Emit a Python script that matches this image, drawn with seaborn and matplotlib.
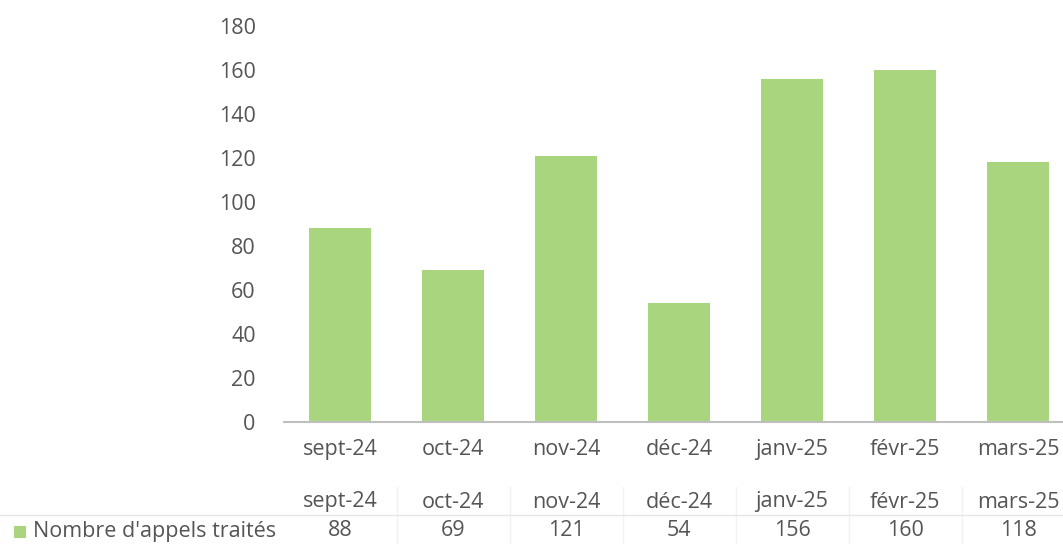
import matplotlib
matplotlib.use("Agg")
import matplotlib.pyplot as plt
import matplotlib.transforms as mtransforms
from matplotlib.patches import Rectangle
import seaborn as sns
import pandas as pd

months = ["sept-24", "oct-24", "nov-24", "déc-24", "janv-25", "févr-25", "mars-25"]
calls = [88, 69, 121, 54, 156, 160, 118]
series_name = "Nombre d'appels traités"
yticks = [0, 20, 40, 60, 80, 100, 120, 140, 160, 180]

bar_color = "#A9D57F"
text_color = "#555555"
font = ["Open Sans", "DejaVu Sans"]
fs = 15.5

sns.set_theme(style="white")
plt.rcParams["font.family"] = font

df = pd.DataFrame({"month": months, "calls": calls})

fig = plt.figure(figsize=(10.63, 5.44), dpi=100)
W, H = 1063, 544
left_px, right_px = 283.5, 1074.5
ax = fig.add_axes([left_px / W, (H - 422) / H, (right_px - left_px) / W, (422 - 26) / H])

sns.barplot(data=df, x="month", y="calls", color=bar_color, width=0.55,
            saturation=1, ax=ax, edgecolor="none")

ax.set_xlim(-0.5, len(months) - 0.5)
ax.set_ylim(0, 180)
ax.set_yticks(yticks)
ax.set_yticklabels([str(v) for v in yticks], fontsize=fs, color=text_color)
ax.set_xticks(range(len(months)))
ax.set_xticklabels(months, fontsize=fs, color=text_color)
ax.tick_params(axis="y", length=0, pad=20)
ax.tick_params(axis="x", length=0, pad=12)
ax.set_xlabel("")
ax.set_ylabel("")
for s in ["left", "right", "top"]:
    ax.spines[s].set_visible(False)
ax.spines["bottom"].set_color("#BFBFBF")
ax.spines["bottom"].set_linewidth(1.5)
ax.grid(False)

# data table below the chart
trans = mtransforms.blended_transform_factory(ax.transData, ax.transAxes)
y_head = (422 - 502) / 396
y_data = (422 - 531) / 396
y_top = (422 - 487) / 396
for i, (m, v) in enumerate(zip(months, calls)):
    ax.text(i, y_head, m, transform=trans, ha="center", va="center",
            fontsize=fs, color=text_color, clip_on=False)
    ax.text(i, y_data, str(v), transform=trans, ha="center", va="center",
            fontsize=fs, color=text_color, clip_on=False)
for b in range(1, len(months)):
    ax.plot([b - 0.5, b - 0.5], [y_top, -0.4], transform=trans, color="#F2F2F2",
            lw=1, clip_on=False)

fig.add_artist(plt.Line2D([0, 1], [(H - 515) / H, (H - 515) / H],
                          transform=fig.transFigure, color="#E6E6E6", lw=1))
fig.add_artist(Rectangle((14 / W, (H - 538) / H), 12 / W, 12 / H,
                         transform=fig.transFigure, facecolor=bar_color,
                         edgecolor="none"))
fig.text(33 / W, (H - 531) / H, series_name, ha="left", va="center",
         fontsize=fs, color=text_color)

fig.savefig("out.png", dpi=100, facecolor="white")
